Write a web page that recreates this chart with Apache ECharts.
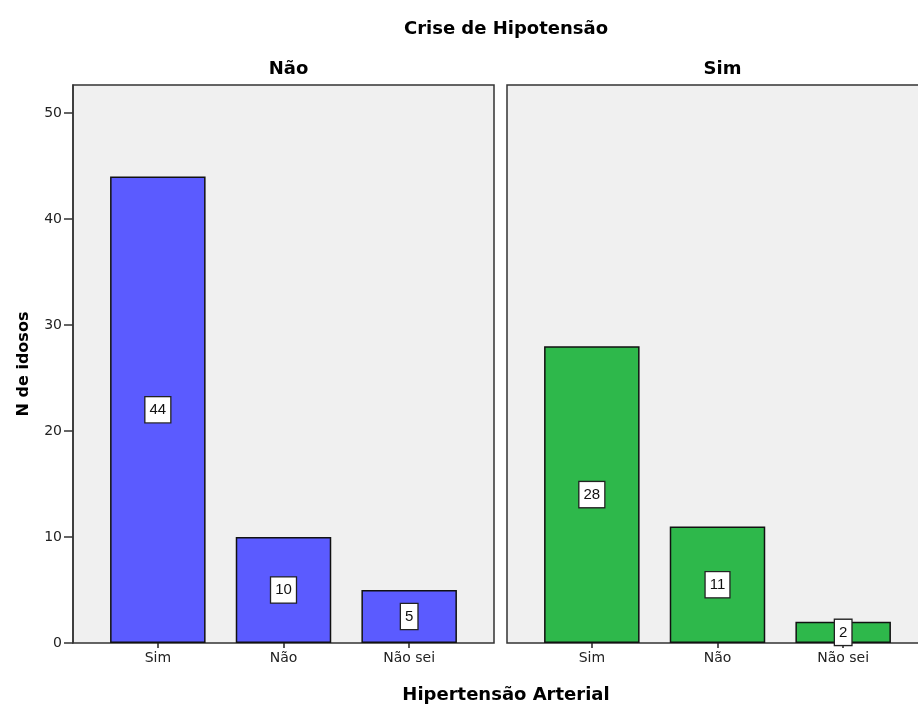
<!DOCTYPE html>
<html>
<head>
<meta charset="utf-8">
<script src="https://cdn.jsdelivr.net/npm/echarts@6/dist/echarts.min.js"></script>
<style>
  html, body { margin: 0; padding: 0; background: #fff; }
  #chart { width: 918px; height: 704px; }
</style>
</head>
<body>
<div id="chart"></div>
<script>
// Hipertensão arterial by crise de hipotensão (N de idosos)
const categories = ['Sim', 'Não', 'Não sei'];
const panelNames = ['Não', 'Sim'];
const countsNao = [44, 10, 5];
const countsSim = [28, 11, 2];
const yTicks = [0, 10, 20, 30, 40, 50];

const Y_MAX = 52.64;
const TXT = 'DejaVu Sans';
const panelColors = ['#5b5bff', '#2eb84b'];
const panelData = [countsNao, countsSim];

// frame panels (full) and inner data grids (inset to leave outer padding)
const frameLeft = [73, 507];
const frameWidth = 421;
const inset = 22;
const plotTop = 85, plotHeight = 558;

const grid = [];
frameLeft.forEach(l => grid.push({
  left: l, top: plotTop, width: frameWidth, height: plotHeight,
  outerBoundsMode: 'none',
  show: true, backgroundColor: '#f0f0f0', borderColor: '#333', borderWidth: 1.5
}));
frameLeft.forEach(l => grid.push({
  left: l + inset, top: plotTop, width: frameWidth - 2 * inset, height: plotHeight,
  outerBoundsMode: 'none'
}));

const xAxis = [], yAxis = [];
[0, 1].forEach(i => {
  xAxis.push({ gridIndex: i, type: 'value', show: false, min: 0, max: 1 });
  yAxis.push({
    gridIndex: i, type: 'value', min: 0, max: Y_MAX, show: i === 0,
    name: i === 0 ? 'N de idosos' : '',
    nameLocation: 'middle', nameGap: 41, nameRotate: 90,
    nameTextStyle: { fontFamily: TXT, fontWeight: 'bold', fontSize: 16, color: '#000' },
    axisLine: { show: true, lineStyle: { color: '#333', width: 1.5 } },
    axisTick: { show: true, length: 9, customValues: yTicks, lineStyle: { color: '#333', width: 1.5 } },
    axisLabel: { customValues: yTicks, fontFamily: TXT, fontSize: 14, color: '#222', margin: 11 },
    splitLine: { show: false }
  });
});
[0, 1].forEach(i => {
  xAxis.push({
    gridIndex: i + 2, type: 'category', data: categories,
    axisLine: { show: false },
    axisTick: { show: true, alignWithLabel: true, length: 5, lineStyle: { color: '#222', width: 1.5 } },
    axisLabel: { fontFamily: TXT, fontSize: 14, color: '#222', margin: 8 }
  });
  yAxis.push({ gridIndex: i + 2, type: 'value', min: 0, max: Y_MAX, show: false });
});

const series = panelData.map((vals, i) => ({
  type: 'bar',
  xAxisIndex: i + 2, yAxisIndex: i + 2,
  data: vals,
  barWidth: '76%',
  itemStyle: { color: panelColors[i], borderColor: '#111', borderWidth: 1.5 },
  label: {
    show: true, position: 'inside',
    fontFamily: 'Liberation Sans', fontSize: 15, color: '#111',
    backgroundColor: '#fff', borderColor: '#222', borderWidth: 1.3,
    padding: [5, 4, 5, 4], lineHeight: 15
  }
}));

const titleStyle = { fontFamily: TXT, fontWeight: 'bold', fontSize: 18, color: '#000' };
const title = [
  { text: 'Crise de Hipotensão', left: 501, top: 15, textAlign: 'center', textStyle: titleStyle },
  ...panelNames.map((n, i) => ({
    text: n, left: frameLeft[i] + frameWidth / 2, top: 55, textAlign: 'center', textStyle: titleStyle
  })),
  { text: 'Hipertensão Arterial', left: 501, top: 681, textAlign: 'center', textStyle: titleStyle }
];

const chart = echarts.init(document.getElementById('chart'), null, { renderer: 'canvas' });
chart.setOption({
  animation: false,
  backgroundColor: '#fff',
  title, grid, xAxis, yAxis, series
});
</script>
</body>
</html>
